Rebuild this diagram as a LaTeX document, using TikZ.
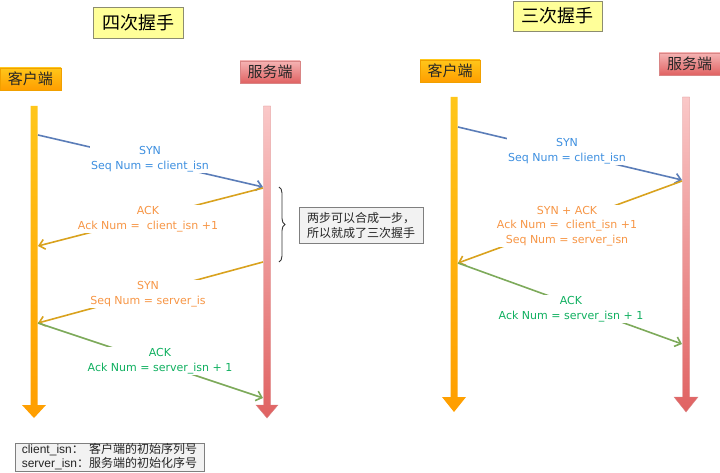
\documentclass[tikz,border=0pt]{standalone}
\usepackage{fontspec}
\setmainfont{DejaVu Sans}
\newfontfamily\cjk{Noto Sans CJK SC}
\newfontfamily\arialf{Liberation Sans}
\usetikzlibrary{arrows.meta,decorations.pathreplacing}
\definecolor{titlefill}{HTML}{FFFF99}
\definecolor{titleedge}{HTML}{8C8C70}
\definecolor{cliTop}{HTML}{FFC61A}
\definecolor{cliBot}{HTML}{FF9E00}
\definecolor{cliEdge}{HTML}{F0A000}
\definecolor{srvTop}{HTML}{FAC8C8}
\definecolor{srvBot}{HTML}{E06262}
\definecolor{srvEdge}{HTML}{D98585}
\definecolor{bluel}{HTML}{5B7DB8}
\definecolor{bluet}{HTML}{3D8FE0}
\definecolor{goldl}{HTML}{D9A21E}
\definecolor{oranget}{HTML}{F79646}
\definecolor{greenl}{HTML}{7DAA5A}
\definecolor{greent}{HTML}{10B060}
\definecolor{notefill}{HTML}{F2F2F2}
\definecolor{noteedge}{HTML}{7F7F7F}
\tikzset{
  titlebox/.style={draw=titleedge, fill=titlefill, line width=0.8pt, inner sep=0pt,
    font=\cjk\fontsize{18}{20}\selectfont},
  clibox/.style={draw=cliEdge, top color=cliTop, bottom color=cliBot, inner sep=0pt,
    font=\cjk\fontsize{15}{17}\selectfont, text=black!85},
  srvbox/.style={draw=srvEdge, top color=srvTop!80!srvBot, bottom color=srvBot, inner sep=0pt,
    font=\cjk\fontsize{15}{17}\selectfont, text=black!85},
  msgline/.style={line width=1.6pt, -{Straight Barb[length=5.5pt,width=10pt]}},
  msglabel/.style={fill=white, inner sep=1pt, align=center,
    font=\fontsize{11}{14.5}\selectfont},
  notebox/.style={draw=noteedge, fill=notefill, inner sep=0pt, align=left,
    font=\cjk\fontsize{12}{15}\selectfont, text=black!85},
}
\begin{document}
\begin{tikzpicture}[x=1pt,y=-1pt]
\useasboundingbox (0,0) rectangle (720,473);

% ---------- titles ----------
\node[titlebox, minimum width=90pt, minimum height=31pt] (t4) at (138,22.5) {四次握手};
\node[titlebox, minimum width=89pt, minimum height=30pt] (t3) at (557.5,16) {三次握手};

% ---------- party boxes ----------
\node[clibox, minimum width=61pt, minimum height=22pt] (lc) at (30.5,79) {客户端};
\node[srvbox, minimum width=60pt, minimum height=22pt] (ls) at (270,72) {服务端};
\node[clibox, minimum width=60pt, minimum height=22pt] (rc) at (450,71) {客户端};
\node[srvbox, minimum width=61pt, minimum height=22pt] (rs) at (689.5,64) {服务端};

% ---------- lifelines ----------
\shade[top color=cliTop, bottom color=cliBot]
  (30.5,106) -- (37.5,106) -- (37.5,405) -- (46,405) -- (34,418) -- (22,405) -- (30.5,405) -- cycle;
\shade[top color=srvTop, bottom color=srvBot, draw=srvEdge, line width=0.4pt]
  (263.5,106) -- (270.5,106) -- (270.5,405) -- (278,405) -- (267,418) -- (256,405) -- (263.5,405) -- cycle;
\shade[top color=cliTop, bottom color=cliBot]
  (450.5,97) -- (457.5,97) -- (457.5,397) -- (466,397) -- (454,412) -- (442,397) -- (450.5,397) -- cycle;
\shade[top color=srvTop, bottom color=srvBot, draw=srvEdge, line width=0.4pt]
  (682.5,97) -- (689.5,97) -- (689.5,397) -- (698,397) -- (686,412) -- (674,397) -- (682.5,397) -- cycle;

% ---------- message end points ----------
\coordinate (l1a) at (38,135);  \coordinate (l1b) at (263,187);
\coordinate (l2a) at (263,188); \coordinate (l2b) at (38,246);
\coordinate (l3a) at (263,262); \coordinate (l3b) at (38,323);
\coordinate (l4a) at (38,323);  \coordinate (l4b) at (263,398);
\coordinate (r1a) at (458,127); \coordinate (r1b) at (682,180);
\coordinate (r2a) at (682,181); \coordinate (r2b) at (458,263);
\coordinate (r3a) at (458,263); \coordinate (r3b) at (682,344);

% ---------- four-way handshake ----------
\draw[msgline, bluel] (l1a) -- (l1b);
\node[msglabel, text=bluet] (m1) at (150,159) {SYN\\Seq Num = client\_isn};
\draw[msgline, goldl] (l2a) -- (l2b);
\node[msglabel, text=oranget] (m2) at (148,219) {ACK\\Ack Num =\ \ client\_isn +1};
\draw[msgline, goldl] (l3a) -- (l3b);
\node[msglabel, text=oranget] (m3) at (148,294) {SYN\\Seq Num = server\_is};
\draw[msgline, greenl] (l4a) -- (l4b);
\node[msglabel, text=greent] (m4) at (160,361) {ACK\\Ack Num = server\_isn + 1};

% ---------- brace and note ----------
\coordinate (bra) at (279,187);
\coordinate (brb) at (279,262);
\draw[black!80, line width=0.9pt, decorate, decoration={brace, amplitude=6pt}] (bra) -- (brb);
\node[notebox, minimum width=124pt, minimum height=36pt] (note) at (361,225)
  {两步可以合成一步，\\所以就成了三次握手};

% ---------- three-way handshake ----------
\draw[msgline, bluel] (r1a) -- (r1b);
\node[msglabel, text=bluet] (n1) at (567,151) {SYN\\Seq Num = client\_isn};
\draw[msgline, goldl] (r2a) -- (r2b);
\node[msglabel, text=oranget] (n2) at (567,226) {SYN + ACK\\Ack Num =\ \ client\_isn +1\\Seq Num = server\_isn};
\draw[msgline, greenl] (r3a) -- (r3b);
\node[msglabel, text=greent] (n3) at (571,309) {ACK\\Ack Num = server\_isn + 1};

% ---------- legend ----------
\node[draw=noteedge, fill=notefill, inner sep=0pt, minimum width=189pt, minimum height=28pt,
  font=\fontsize{12}{13}\selectfont, text=black!85] (legend) at (109.5,457)
  {\begin{tabular}{@{}l@{}l@{}}
   {\arialf client\_isn}{\cjk ：} & {\cjk 客户端的初始序列号}\\
   {\arialf server\_isn}{\cjk ：} & {\cjk 服务端的初始化序号}
   \end{tabular}};
\end{tikzpicture}
\end{document}
